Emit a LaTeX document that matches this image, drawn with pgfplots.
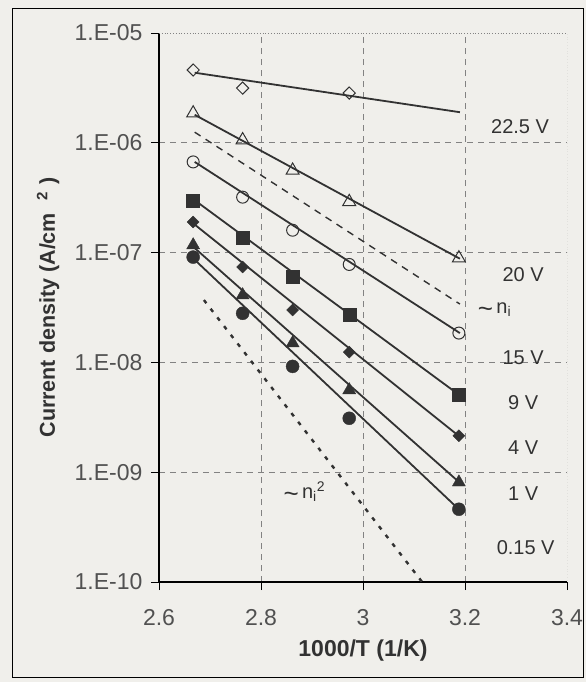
\documentclass[border=0pt]{standalone}
\usepackage{fontspec}
\setmainfont{Liberation Sans}
\usepackage{pgfplots}
\pgfplotsset{compat=1.18}
\definecolor{paper}{RGB}{240,239,235}
\definecolor{ink}{RGB}{50,50,50}
\definecolor{gridc}{RGB}{130,130,130}
\newcommand{\tld}{\raisebox{-0.35ex}{\fontsize{26}{26}\selectfont\textasciitilde}}

\begin{document}
\begin{tikzpicture}
\fill[paper] (-159pt,-100pt) rectangle (427pt,582pt);
\useasboundingbox (-159pt,-100pt) rectangle (427pt,582pt);
\draw[black, line width=1pt] (-146pt,-95pt) rectangle (424pt,573pt);
\begin{axis}[
  at={(0,0)}, anchor=south west,
  scale only axis, width=408pt, height=549pt,
  ymode=log, xmin=2.6, xmax=3.4, ymin=1e-10, ymax=1e-5,
  axis lines*=left,
  axis line style={black, line width=1.1pt},
  tick align=outside, major tick length=8pt,
  tick style={black, line width=0.9pt},
  minor tick num=0, log basis y=10,
  xtick={2.6,2.8,3,3.2}, xticklabels={2.6,2.8,3,3.2},
  extra x ticks={3.4}, extra x tick labels={3.4},
  extra x tick style={grid=none},
  ytick={1e-10,1e-9,1e-8,1e-7,1e-6},
  yticklabels={1.E-10,1.E-09,1.E-08,1.E-07,1.E-06},
  extra y ticks={1e-5}, extra y tick labels={1.E-05},
  extra y tick style={grid=none},
  grid=major,
  major grid style={gridc, line width=0.8pt, dash pattern=on 6pt off 5pt},
  ticklabel style={font=\fontsize{23}{25}\selectfont, text=ink!85},
  xticklabel style={yshift=-16pt},
  yticklabel style={xshift=-5pt},
  xlabel={\textbf{1000/T (1/K)}},
  ylabel={\textbf{Current density (A/cm\hspace{0.6em}\textsuperscript{2}\hspace{0.3em})}},
  every axis x label/.style={at={(axis description cs:0.5,-0.125)}, anchor=center,
    font=\fontsize{23}{25}\selectfont, text=ink},
  every axis y label/.style={at={(axis description cs:-0.272,0.5)}, anchor=center, rotate=90,
    font=\fontsize{21.5}{24}\selectfont, text=ink},
  clip=true,
]
\draw[gridc, dotted, line width=0.8pt] (rel axis cs:0,1) -- (rel axis cs:1,1) -- (rel axis cs:1,0);

% fit lines
\addplot[ink, line width=1.8pt] coordinates {(2.67,4.35e-6) (3.19,1.9e-6)};
\addplot[ink, line width=1.8pt] coordinates {(2.67,1.8e-6) (3.19,8.8e-8)};
\addplot[ink, line width=1.8pt] coordinates {(2.67,6.7e-7) (3.19,1.85e-8)};
\addplot[ink, line width=1.8pt] coordinates {(2.67,3.0e-7) (3.19,5.0e-9)};
\addplot[ink, line width=1.8pt] coordinates {(2.67,1.8e-7) (3.19,2.1e-9)};
\addplot[ink, line width=1.8pt] coordinates {(2.67,1.1e-7) (3.19,8.0e-10)};
\addplot[ink, line width=1.8pt] coordinates {(2.67,8.6e-8) (3.19,4.5e-10)};

% ~ n_i and ~ n_i^2 guides
\addplot[ink, line width=1.4pt, dash pattern=on 7pt off 6pt] coordinates {(2.67,1.25e-6) (3.19,3.4e-8)};
\addplot[ink, line width=2.4pt, dash pattern=on 4pt off 7pt] coordinates {(2.688,3.7e-8) (3.116,1e-10)};

% measured points
\addplot[only marks, mark=square, mark size=4.3pt, mark options={rotate=45, ink, line width=1pt, fill=paper}]
  coordinates {(2.667,4.6e-6) (2.764,3.15e-6) (2.973,2.84e-6)};
\addplot[only marks, mark=triangle, mark size=7.5pt, mark options={ink, line width=1pt, fill=paper}]
  coordinates {(2.667,1.86e-6) (2.764,1.06e-6) (2.862,5.6e-7) (2.973,2.9e-7) (3.188,8.9e-8)};
\addplot[only marks, mark=o, mark size=6pt, mark options={ink, line width=1pt, fill=paper}]
  coordinates {(2.667,6.7e-7) (2.764,3.2e-7) (2.862,1.6e-7) (2.973,7.8e-8) (3.188,1.85e-8)};
\addplot[only marks, mark=square*, mark size=6.5pt, mark options={ink}]
  coordinates {(2.667,3.0e-7) (2.764,1.38e-7) (2.862,6.0e-8) (2.973,2.7e-8) (3.188,5.1e-9)};
\addplot[only marks, mark=square*, mark size=4.2pt, mark options={rotate=45, ink}]
  coordinates {(2.667,1.9e-7) (2.764,7.4e-8) (2.862,3.0e-8) (2.973,1.24e-8) (3.188,2.15e-9)};
\addplot[only marks, mark=triangle*, mark size=7.5pt, mark options={ink}]
  coordinates {(2.667,1.17e-7) (2.764,4.1e-8) (2.862,1.5e-8) (2.973,5.6e-9) (3.188,8.1e-10)};
\addplot[only marks, mark=*, mark size=6.5pt, mark options={ink}]
  coordinates {(2.667,9.1e-8) (2.764,2.8e-8) (2.862,9.2e-9) (2.973,3.1e-9) (3.188,4.6e-10)};

% labels
\begin{scope}[every node/.style={font=\fontsize{20}{22}\selectfont, text=ink}]
\node at (axis cs:3.308,1.39e-6) {22.5 V};
\node at (axis cs:3.314,6.25e-8) {20 V};
\node at (axis cs:3.258,3.0e-8) {\tld\,n\textsubscript{i}};
\node at (axis cs:3.314,1.1e-8) {15 V};
\node at (axis cs:3.314,4.27e-9) {9 V};
\node at (axis cs:3.314,1.66e-9) {4 V};
\node at (axis cs:3.314,6.45e-10) {1 V};
\node at (axis cs:3.319,2.04e-10) {0.15 V};
\node at (axis cs:2.885,6.6e-10) {\tld\,n\textsubscript{i}\textsuperscript{2}};
\end{scope}
\end{axis}
\end{tikzpicture}
\end{document}
